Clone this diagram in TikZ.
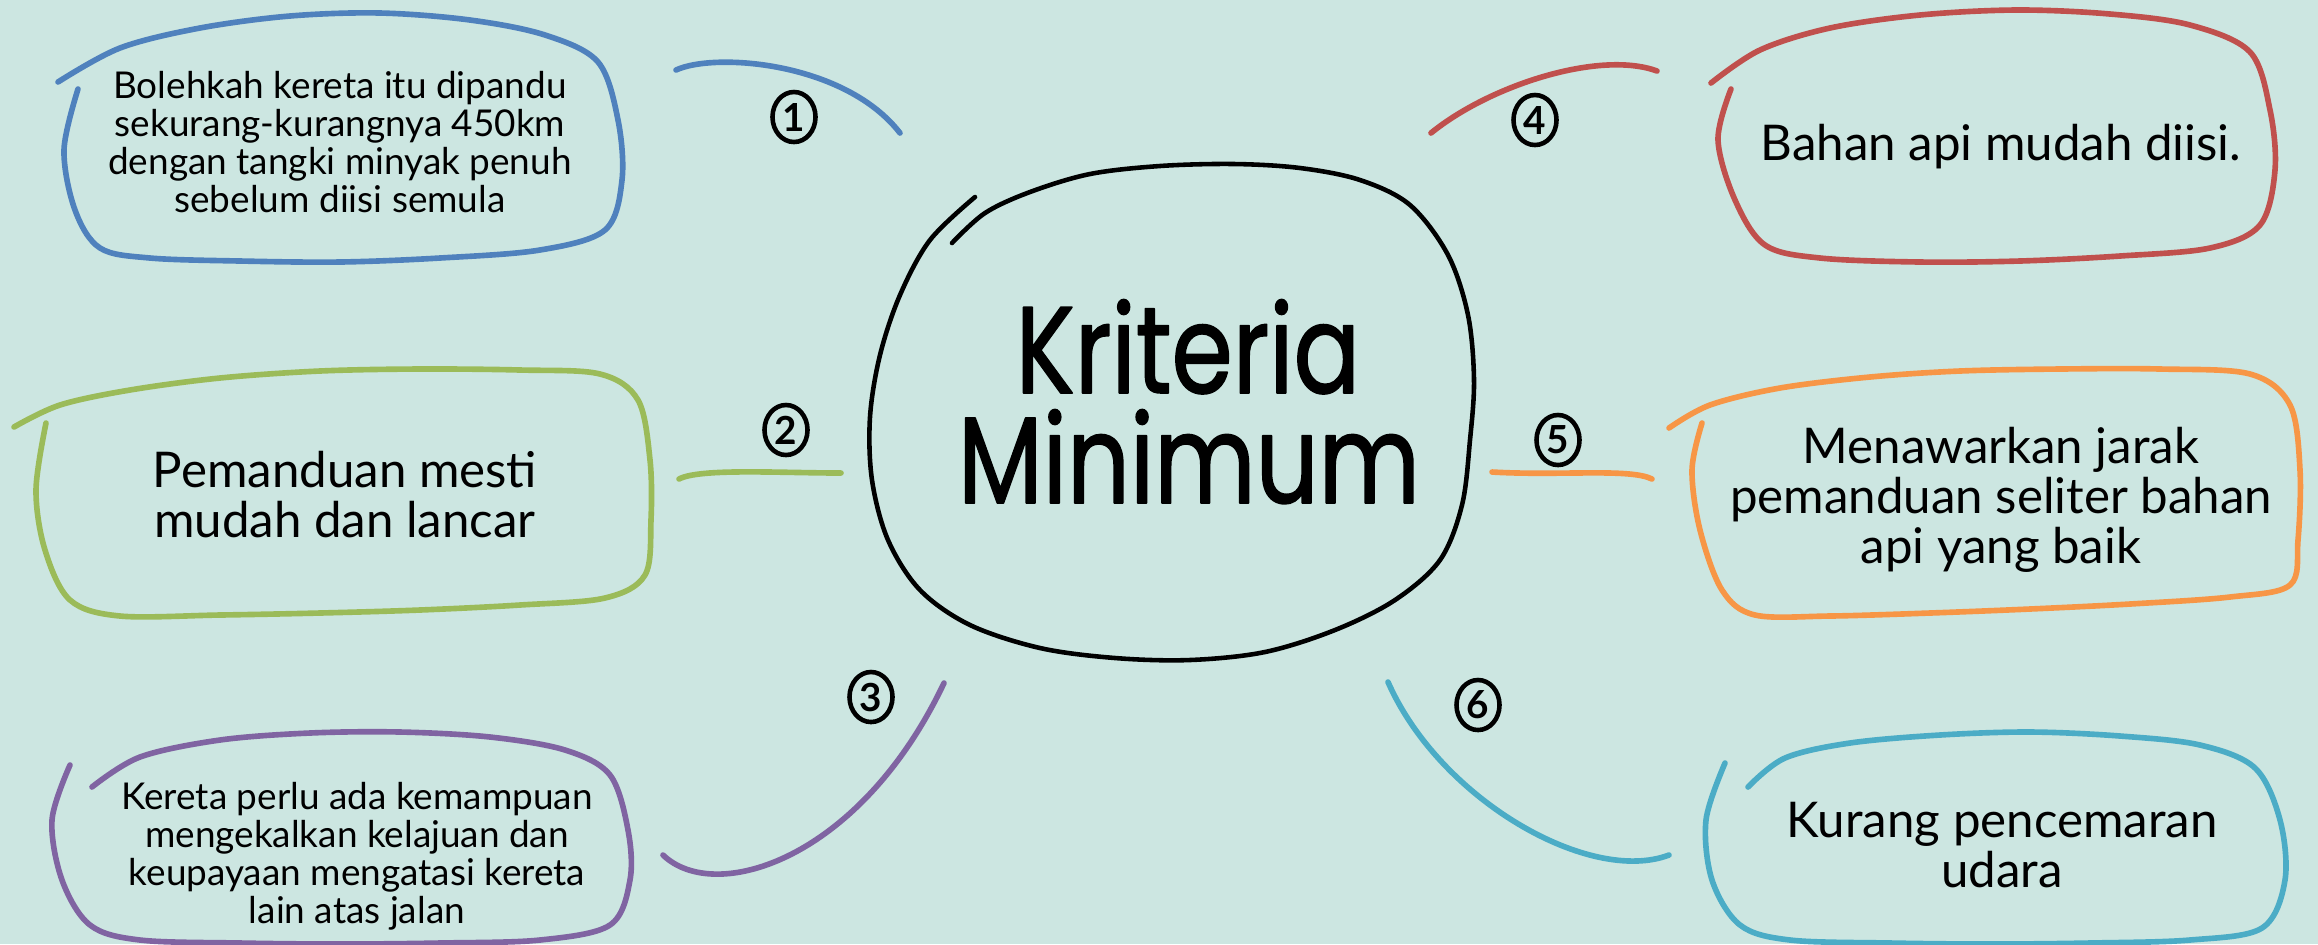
\documentclass[tikz,border=0pt]{standalone}
\usepackage{fontspec}
\setmainfont{Lato}
\newfontfamily\titlefont[FakeStretch=0.8,FakeBold=1.2]{Poppins}
\usetikzlibrary{shapes.geometric}
\definecolor{bg}{HTML}{CCE6E1}
\definecolor{cblue}{HTML}{4F81BD}
\definecolor{cred}{HTML}{C0504D}
\definecolor{cgreen}{HTML}{9BBB59}
\definecolor{cpurple}{HTML}{8064A2}
\definecolor{corange}{HTML}{F79646}
\definecolor{cteal}{HTML}{4BACC6}
\begin{document}
\begin{tikzpicture}[x=0.01cm,y=-0.01cm,line cap=round,line join=round,
  outl/.style={line width=1.6pt},
  conn/.style={line width=1.6pt},
  ttl/.style={inner sep=0pt,anchor=base,font=\titlefont\fontsize{35}{35}\selectfont},
  lbl/.style={align=center,inner sep=0pt,font=\fontsize{14}{14.2}\selectfont},
  slbl/.style={align=center,inner sep=0pt,font=\fontsize{10.5}{10.8}\selectfont},
  numc/.style={draw,ellipse,line width=1.3pt,minimum width=0.43cm,minimum height=0.5cm,inner sep=0pt,font=\fontsize{11}{11}\selectfont\bfseries}]
\useasboundingbox (0,0) rectangle (2318,944);
\fill[bg] (0,0) rectangle (2318,944);

% central blob
\draw[line width=1.3pt] plot[smooth,tension=0.55] coordinates {(975,197) (930,240) (900,295) (880,355) (870,417) (872,480) (888,540) (920,590) (970,625) (1040,648) (1115,658) (1190,660) (1265,652) (1335,630) (1395,600) (1440,560) (1462,505) (1470,440) (1474,380) (1468,315) (1448,255) (1410,205) (1360,180) (1300,168) (1234,164) (1160,166) (1090,174) (1030,192) (985,213) (952,243)};
\node[ttl] (title1) at (1188,393) {Kriteria};
\node[ttl] (title2) at (1189,503) {Minimum};

% box 1 blue
\draw[outl,cblue] plot[smooth,tension=0.55] coordinates {(58,82) (120,48) (200,28) (290,16) (380,13) (470,20) (545,35) (598,62) (618,120) (622,180) (605,230) (540,250) (440,258) (340,262) (240,261) (150,258) (100,248) (75,210) (64,150) (78,89)};
\node[slbl] (t1) at (340,142) {Bolehkah kereta itu dipandu\\sekurang-kurangnya 450km\\dengan tangki minyak penuh\\sebelum diisi semula};

% box 2 green
\draw[outl,cgreen] plot[smooth,tension=0.55] coordinates {(14,427) (60,405) (130,390) (220,378) (320,371) (420,369) (520,370) (600,374) (638,400) (650,460) (651,520) (645,575) (605,598) (520,605) (420,610) (320,613) (220,615) (120,616) (70,600) (45,550) (36,490) (46,423)};
\node[lbl] (t2) at (345,495) {Pemanduan mesti\\mudah dan lancar};

% box 3 purple
\draw[outl,cpurple] plot[smooth,tension=0.55] coordinates {(92,787) (140,757) (220,740) (310,733) (400,732) (490,737) (565,750) (610,775) (628,830) (630,880) (610,925) (540,940) (440,943) (340,944) (240,943) (140,940) (90,925) (62,880) (52,820) (70,765)};
\node[slbl] (t3) at (357,856) {Kereta perlu ada kemampuan\\mengekalkan kelajuan dan\\keupayaan mengatasi kereta\\lain atas jalan};

% box 4 red
\draw[outl,cred] plot[smooth,tension=0.55] coordinates {(1711,83) (1760,50) (1830,28) (1920,15) (2017,10) (2110,14) (2190,25) (2250,52) (2270,110) (2275,170) (2260,225) (2210,248) (2120,256) (2020,261) (1920,262) (1820,258) (1765,245) (1735,200) (1718,140) (1731,89)};
\node[lbl] (t4) at (2001,147) {Bahan api mudah diisi.};

% box 5 orange
\draw[outl,corange] plot[smooth,tension=0.55] coordinates {(1669,428) (1710,405) (1780,388) (1870,377) (1960,371) (2060,369) (2160,369) (2250,374) (2290,405) (2300,470) (2298,540) (2290,585) (2230,597) (2130,604) (2030,609) (1930,613) (1830,616) (1755,615) (1722,590) (1700,530) (1692,470) (1702,423)};
\node[lbl] (t5) at (2001,500) {Menawarkan jarak\\pemanduan seliter bahan\\api yang baik};

% box 6 teal
\draw[outl,cteal] plot[smooth,tension=0.55] coordinates {(1748,787) (1785,758) (1850,743) (1940,735) (2030,732) (2120,736) (2200,745) (2255,768) (2280,820) (2285,880) (2262,928) (2190,940) (2090,943) (1990,944) (1890,943) (1790,940) (1740,925) (1712,880) (1706,820) (1725,763)};
\node[lbl] (t6) at (2002,845) {Kurang pencemaran\\udara};

% connectors
\coordinate (c1a) at (676,70); \coordinate (c1b) at (900,133);
\coordinate (c2a) at (679,479); \coordinate (c2b) at (841,473);
\coordinate (c3a) at (663,855); \coordinate (c3b) at (944,683);
\coordinate (c4a) at (1431,133); \coordinate (c4b) at (1657,71);
\coordinate (c5a) at (1492,472); \coordinate (c5b) at (1652,479);
\coordinate (c6a) at (1388,682); \coordinate (c6b) at (1669,855);
\draw[conn,cblue] (c1a) .. controls (715,52) and (845,62) .. (c1b);
\draw[conn,cgreen] (c2a) .. controls (700,468) and (780,473) .. (c2b);
\draw[conn,cpurple] (c3a) .. controls (715,905) and (860,860) .. (c3b);
\draw[conn,cred] (c4a) .. controls (1490,85) and (1600,50) .. (c4b);
\draw[conn,corange] (c5a) .. controls (1560,476) and (1630,468) .. (c5b);
\draw[conn,cteal] (c6a) .. controls (1440,800) and (1590,885) .. (c6b);

% numbers
\node[numc] (n1) at (794,117) {1};
\node[numc] (n2) at (786,430) {2};
\node[numc] (n3) at (871,697) {3};
\node[numc] (n4) at (1535,120) {4};
\node[numc] (n5) at (1558,440) {5};
\node[numc] (n6) at (1478,705) {6};
\end{tikzpicture}
\end{document}
